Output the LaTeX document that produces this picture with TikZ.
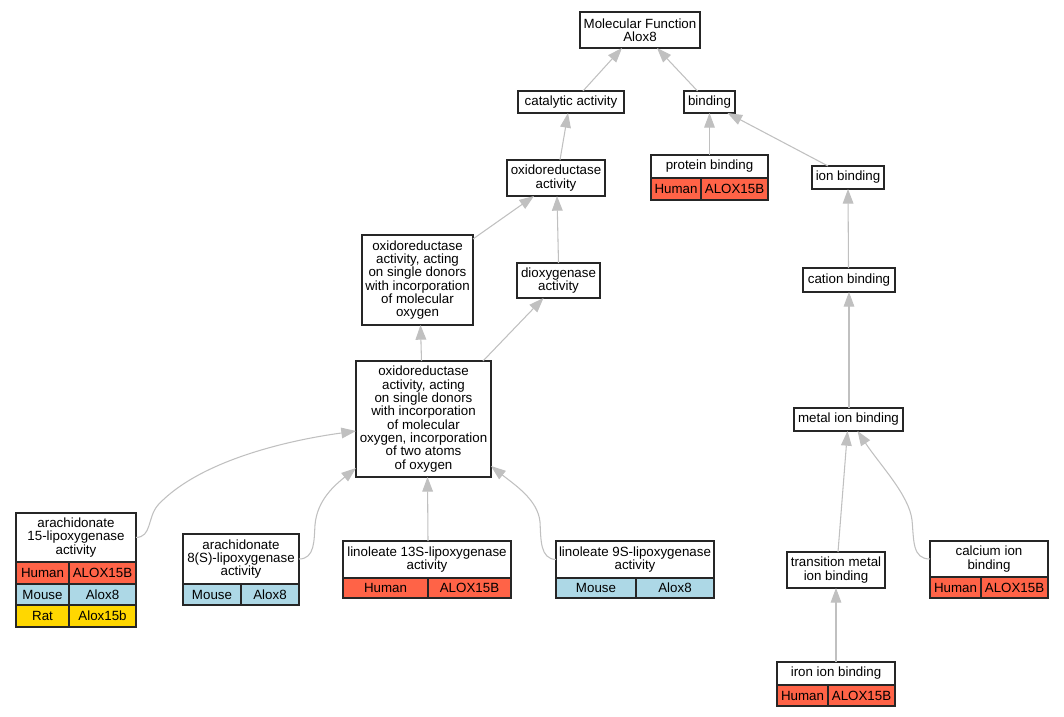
\documentclass[tikz,border=0pt]{standalone}
\usepackage{fontspec}
\setmainfont{Liberation Sans}
\usetikzlibrary{arrows.meta,calc}
\definecolor{human}{HTML}{FF6347}
\definecolor{mouse}{HTML}{ADD8E6}
\definecolor{rat}{HTML}{FFD700}
\definecolor{edgegray}{HTML}{C0C0C0}
\tikzset{
  term/.style={draw=black!85, fill=white, line width=1pt, align=center, inner sep=0pt, outer sep=0pt,
    font=\fontsize{10}{10}\selectfont},
  size/.style 2 args={minimum width={#1*0.75pt}, minimum height={#2*0.75pt}},
  cell/.style={term, fill=#1, anchor=north west},
  link/.style={draw=edgegray, line width=0.8pt, -{Triangle[length=11pt,width=8pt]}},
}
\begin{document}
\begin{tikzpicture}[x=0.75pt, y=-0.75pt]
\useasboundingbox (0,0) rectangle (1064,717);
% terms
\node[term, size={120}{36}] (mf) at (640,30) {Molecular Function\\Alox8};
\node[term, size={106}{22}] (cat) at (571,102) {catalytic activity};
\node[term, size={51}{22}] (bind) at (709.5,102) {binding};
\node[term, size={98}{36}] (oxa) at (556,178) {oxidoreductase\\activity};
\node[term, size={72}{23}] (ion) at (848,177.5) {ion binding};
\node[term, size={111}{90}] (oxm) at (417.5,280) {oxidoreductase\\activity, acting\\on single donors\\with incorporation\\of molecular\\oxygen};
\node[term, size={83}{35}] (diox) at (558.5,280.5) {dioxygenase\\activity};
\node[term, size={92}{24}] (cation) at (849,280) {cation binding};
\node[term, size={135}{116}] (big) at (423.5,419) {oxidoreductase\\activity, acting\\on single donors\\with incorporation\\of molecular\\oxygen, incorporation\\of two atoms\\of oxygen};
\node[term, size={109}{23}] (metal) at (848.5,419.5) {metal ion binding};
\node[term, size={98}{36}] (trans) at (836,570) {transition metal\\ion binding};

% annotated terms
\node[term, size={117}{23}] (prot) at (709.5,166.5) {protein binding};
\node[cell=human, size={50}{22}] (protH) at (prot.south west) {Human};
\node[cell=human, size={67}{22}] (protG) at (protH.north east) {ALOX15B};

\node[term, size={120}{49}] (a15) at (76,537.5) {arachidonate\\15-lipoxygenase\\activity};
\node[cell=human, size={53}{22}] (a15H) at (a15.south west) {Human};
\node[cell=human, size={67}{22}] (a15HG) at (a15H.north east) {ALOX15B};
\node[cell=mouse, size={53}{21}] (a15M) at (a15H.south west) {Mouse};
\node[cell=mouse, size={67}{21}] (a15MG) at (a15M.north east) {Alox8};
\node[cell=rat, size={53}{22}] (a15R) at (a15M.south west) {Rat};
\node[cell=rat, size={67}{22}] (a15RG) at (a15R.north east) {Alox15b};

\node[term, size={116}{50}] (a8) at (241,559) {arachidonate\\8(S)-lipoxygenase\\activity};
\node[cell=mouse, size={58}{21}] (a8M) at (a8.south west) {Mouse};
\node[cell=mouse, size={58}{21}] (a8MG) at (a8M.north east) {Alox8};

\node[term, size={168}{37}] (lin13) at (427,559.5) {linoleate 13S-lipoxygenase\\activity};
\node[cell=human, size={85}{20}] (lin13H) at (lin13.south west) {Human};
\node[cell=human, size={83}{20}] (lin13G) at (lin13H.north east) {ALOX15B};

\node[term, size={158}{37}] (lin9) at (635,559.5) {linoleate 9S-lipoxygenase\\activity};
\node[cell=mouse, size={80}{20}] (lin9M) at (lin9.south west) {Mouse};
\node[cell=mouse, size={78}{20}] (lin9G) at (lin9M.north east) {Alox8};

\node[term, size={118}{36}] (calc) at (989,559) {calcium ion\\binding};
\node[cell=human, size={51}{21}] (calcH) at (calc.south west) {Human};
\node[cell=human, size={67}{21}] (calcG) at (calcH.north east) {ALOX15B};

\node[term, size={118}{23}] (iron) at (836,673.5) {iron ion binding};
\node[cell=human, size={51}{21}] (ironH) at (iron.south west) {Human};
\node[cell=human, size={67}{21}] (ironG) at (ironH.north east) {ALOX15B};

% is_a links
\draw[link] ($(cat.north)+(12,0)$) -- ($(mf.south)+(-18,0)$);
\draw[link] ($(bind.north)+(-12,0)$) -- ($(mf.south)+(17,0)$);
\draw[link] ($(oxa.north)+(4,0)$) -- ($(cat.south)+(-3,0)$);
\draw[link] (prot.north) -- (bind.south);
\draw[link] ($(ion.north)+(-20,0)$) -- ($(bind.south)+(18,0)$);
\draw[link] ($(oxm.north east)+(0,4)$) -- ($(oxa.south)+(-22,0)$);
\draw[link] (diox.north) -- ($(oxa.south)+(1,0)$);
\draw[link] ($(cation.north)+(-0.5,0)$) -- (ion.south);
\draw[link] ($(big.north)+(-2,0)$) -- ($(oxm.south)+(3,0)$);
\draw[link] ($(big.north east)+(-8,0)$) -- ($(diox.south)+(-15,0)$);
\draw[link] ($(metal.north)+(0.5,0)$) -- (cation.south);
\draw[link] (a15.east) .. controls (152,537) and (147,518) .. (158,505) .. controls (200,460) and (290,440) .. ($(big.west)+(0,12)$);
\draw[link] (a8.east) .. controls (315,559) and (314,540) .. (315,525) .. controls (317,500) and (335,485) .. ($(big.south west)+(0,-9)$);
\draw[link] ($(lin13.north)+(1,0)$) -- ($(big.south)+(4,0)$);
\draw[link] (lin9.west) .. controls (540,559) and (541,540) .. (540,522) .. controls (538,500) and (515,485) .. ($(big.south east)+(0,-11)$);
\draw[link] ($(trans.north)+(2,0)$) -- ($(metal.south)+(-1,0)$);
\draw[link] (calc.west) .. controls (912,559) and (914,540) .. (912,520) .. controls (909,495) and (880,465) .. ($(metal.south)+(9,0)$);
\draw[link] (iron.north) -- (trans.south);
\end{tikzpicture}
\end{document}
